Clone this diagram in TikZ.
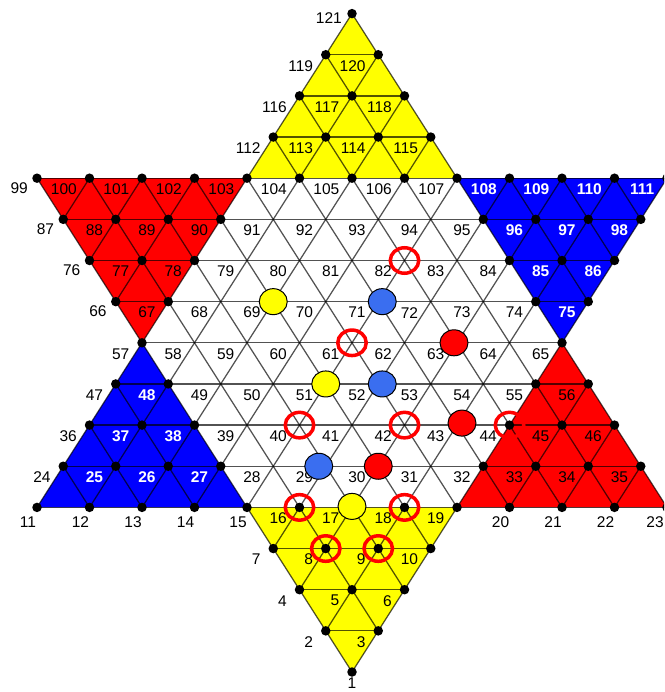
\documentclass[tikz,border=0pt]{standalone}
\usepackage{fontspec}
\setmainfont{Liberation Sans}
\usetikzlibrary{shapes.geometric}
\definecolor{cyel}{RGB}{255,255,0}
\definecolor{cred}{RGB}{255,0,0}
\definecolor{cblue}{RGB}{0,0,255}
\definecolor{pblue}{RGB}{58,110,240}
\begin{document}
\begin{tikzpicture}[x=1pt,y=1pt,
  gline/.style={draw=black, draw opacity=0.68, line width=1.25pt},
  pdot/.style={circle, fill=black, inner sep=0pt, minimum size=9.5pt},
  plab/.style={font=\fontsize{15.5}{18}\selectfont, inner sep=0pt, anchor=east},
  wplab/.style={plab, text=white, font=\fontsize{15.5}{18}\selectfont\bfseries},
  blab/.style={font=\fontsize{15.5}{18}\selectfont, inner sep=0pt, anchor=center},
  piece/.style={ellipse, draw=black, line width=1pt, minimum width=28pt, minimum height=26pt, inner sep=0pt},
  pring/.style={ellipse, draw=red, line width=3.5pt, minimum width=28.5pt, minimum height=25.5pt, inner sep=0pt}]
\clip (0,0) rectangle (664,-692);
\fill[white] (0,0) rectangle (664,-692);
% lattice points p1..p121
\foreach \k/\cmin/\n/\off in {0/0/1/0, 1/-1/2/1, 2/-2/3/3, 3/-3/4/6, 4/-12/13/10, 5/-11/12/23, 6/-10/11/35, 7/-9/10/46, 8/-8/9/56, 9/-9/10/65, 10/-10/11/75, 11/-11/12/86, 12/-12/13/98, 13/-3/4/111, 14/-2/3/115, 15/-1/2/118, 16/0/1/120} {
  \foreach \i in {1,...,\n} {
    \pgfmathtruncatemacro\num{\off+\i}
    \pgfmathsetmacro\xx{352+26.25*(\cmin+2*(\i-1))}
    \pgfmathsetmacro\yy{-672+41.15*\k}
    \coordinate (p\num) at (\xx,\yy);
  }
}
% coloured triangles
\fill[cyel] (p15) -- (p19) -- (p1) -- cycle;
\fill[cyel] (p103) -- (p107) -- (p121) -- cycle;
\fill[cred] (p99) -- (p103) -- (p57) -- cycle;
\fill[cblue] (p107) -- (p111) -- (p65) -- cycle;
\fill[cblue] (p11) -- (p15) -- (p57) -- cycle;
\fill[cred] (p19) -- (p23) -- (p65) -- cycle;
% grid lines
\foreach \a/\b in {2/3, 4/6, 7/10, 11/23, 24/35, 36/46, 47/56, 57/65, 66/75, 76/86, 87/98, 99/111, 112/115, 116/118, 119/120,
  87/100, 76/101, 66/102, 11/121, 12/120, 13/118, 14/115, 15/107, 7/108, 4/109, 2/110, 1/111, 20/56, 21/46, 22/35,
  98/110, 86/109, 75/108, 23/121, 22/119, 21/116, 20/112, 19/103, 10/102, 6/101, 3/100, 1/99, 14/47, 13/36, 12/24}
  \draw[gline] (p\a) -- (p\b);
% dots
\foreach \n in {1,...,23} \node[pdot] (d\n) at (p\n) {};
\foreach \n in {99,...,121} \node[pdot] (d\n) at (p\n) {};
\foreach \n in {24,25,26,27,32,33,34,35,36,37,38,44,45,46,47,48,55,56,57,65,66,67,74,75,76,77,78,84,85,86,87,88,89,90,95,96,97,98}
  \node[pdot] (d\n) at (p\n) {};
% labels
\foreach \n in {2,...,10} \node[plab] (l\n) at ([shift={(-12.5,-11)}]p\n) {\n};
\foreach \n in {16,...,19} \node[plab] (l\n) at ([shift={(-12.5,-11)}]p\n) {\n};
\foreach \n in {24,28,29,30,31,32,33,34,35,36,39,40,41,42,43,44,45,46,47} \node[plab] (l\n) at ([shift={(-12.5,-11)}]p\n) {\n};
\foreach \n in {49,...,65} \node[plab] (l\n) at ([shift={(-12.5,-11)}]p\n) {\n};
\foreach \n in {67,...,74} \node[plab] (l\n) at ([shift={(-12.5,-11)}]p\n) {\n};
\foreach \n in {77,...,84} \node[plab] (l\n) at ([shift={(-12.5,-11)}]p\n) {\n};
\foreach \n in {88,...,95} \node[plab] (l\n) at ([shift={(-12.5,-11)}]p\n) {\n};
\foreach \n in {100,...,107} \node[plab] (l\n) at ([shift={(-12.5,-11)}]p\n) {\n};
\foreach \n in {112,...,120} \node[plab] (l\n) at ([shift={(-12.5,-11)}]p\n) {\n};
\foreach \n in {66,76,87,99} \node[plab] (l\n) at ([shift={(-9,-10)}]p\n) {\n};
\foreach \n in {25,26,27,37,38,48,75,85,86,96,97,98,108,109,110,111} \node[wplab] (l\n) at ([shift={(-12.5,-11)}]p\n) {\n};
\foreach \n in {11,12,13,14,15,20,21,22} \node[blab] (l\n) at ([shift={(-9,-15)}]p\n) {\n};
\node[blab] (l23) at ([shift={(-12,-15)}]p23) {23};
\node[blab] (l1) at ([shift={(0,-11)}]p1) {1};
\node[plab] (l121) at ([shift={(-10,-4)}]p121) {121};
% pieces
\node[piece, fill=cyel] (y69) at (p69) {};
\node[piece, fill=cyel] (y51) at (p51) {};
\node[piece, fill=cyel] (y17) at ([yshift=1]p17) {};
\node[piece, fill=pblue] (b71) at ([xshift=4]p71) {};
\node[piece, fill=pblue] (b52) at ([xshift=4]p52) {};
\node[piece, fill=pblue] (b29) at ([xshift=-7]p29) {};
\node[piece, fill=cred] (r63) at ([xshift=-3]p63) {};
\node[piece, fill=cred] (r43) at ([shift={(5,2)}]p43) {};
\node[piece, fill=cred] (r30) at (p30) {};
% rings
\foreach \n in {82,61,40,42,44,16,18,8,9} \node[pring] (g\n) at (p\n) {};
\end{tikzpicture}
\end{document}
